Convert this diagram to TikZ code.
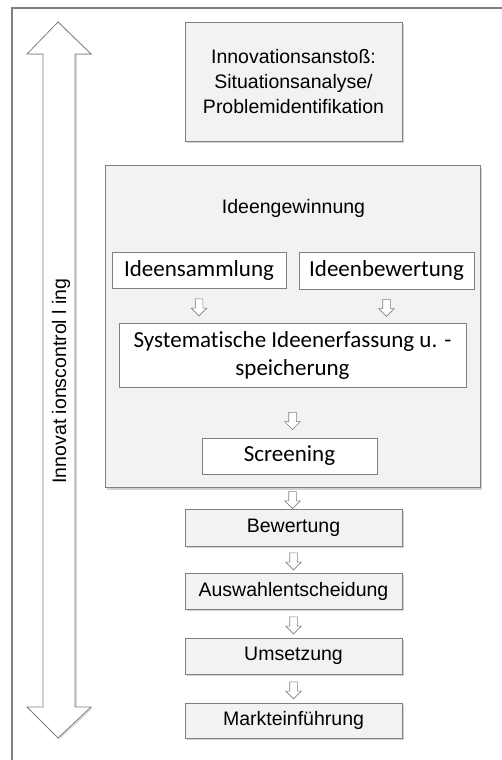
\documentclass[tikz,border=0pt]{standalone}
\usepackage{fontspec}
\setmainfont{Liberation Sans}
\newfontfamily\calibri[Ligatures=NoCommon]{Carlito}
\usepackage{tikz}
\usetikzlibrary{calc,positioning,shapes.arrows,shadows}
\definecolor{boxgray}{HTML}{F2F2F2}
\definecolor{linegray}{HTML}{808080}

\begin{document}
\begin{tikzpicture}[x=1pt, y=-1pt,
  gbox/.style={draw=linegray, fill=boxgray, line width=0.8pt, align=center, inner sep=0pt,
    font=\fontsize{19.5}{25}\selectfont,
    drop shadow={shadow xshift=2pt, shadow yshift=-2pt, fill=black!35}},
  wbox/.style={draw=linegray, fill=white, line width=0.8pt, align=center, inner sep=0pt,
    font=\calibri\fontsize{23}{28}\selectfont},
  hollow/.style={single arrow, draw=linegray, fill=white, line width=0.6pt, inner sep=3.5pt,
    minimum height=17pt, single arrow head extend=4pt,
    shape border rotate=270}]

\useasboundingbox (0,0) rectangle (501,760);

% Rahmen
\draw[linegray, line width=2pt] (12,770) -- (12,8) -- (510,8);

% Doppelpfeil links
\draw[linegray, fill=white, line width=0.8pt,
  drop shadow={shadow xshift=2pt, shadow yshift=-1pt, fill=black!30}]
  (58,22) -- (91,54) -- (75,54) -- (75,707) -- (91,707) -- (58,738)
  -- (27,707) -- (43,707) -- (43,54) -- (27,54) -- cycle;
\node[rotate=90, font=\fontsize{19.5}{24}\selectfont] (control) at (61,381) {Innovat ionscontrol l ing};

% Boxen
\node[gbox, minimum width=217, minimum height=119] (anstoss) at (293.5,81.5)
  {Innovationsanstoß:\\Situationsanalyse/\\Problemidentifikation};
\node[gbox, minimum width=375, minimum height=322] (gewinnung) at (292.5,326.5) {};
\node[font=\fontsize{19.5}{25}\selectfont] (gewtitel) at (293.5,208) {Ideengewinnung};

\node[wbox, minimum width=174, minimum height=36] (sammlung) at (199,270) {Ideensammlung};
\node[wbox, minimum width=175, minimum height=37] (bewidee) at (386.5,270.5) {Ideenbewertung};
\node[wbox, minimum width=347, minimum height=64] (erfassung) at (292.5,355)
  {Systematische Ideenerfassung u. -\\speicherung};
\node[wbox, minimum width=175, minimum height=36] (screening) at (289.5,456) {Screening};

\node[gbox, minimum width=217, minimum height=37] (bewertung) at (293.5,527.5) {Bewertung};
\node[gbox, minimum width=217, minimum height=36] (auswahl) at (293.5,591) {Auswahlentscheidung};
\node[gbox, minimum width=217, minimum height=36] (umsetzung) at (293.5,656) {Umsetzung};
\node[gbox, minimum width=217, minimum height=35] (markt) at (293.5,720.5) {Markteinführung};

% Pfeile
\path (sammlung.south) -- (sammlung.south |- erfassung.north) node[midway, hollow] {};
\path (bewidee.south) -- (bewidee.south |- erfassung.north) node[midway, hollow] {};
\path (erfassung.south) -- (erfassung.south |- screening.north) node[pos=0.63, hollow] {};
\path (gewinnung.south) -- (gewinnung.south |- bewertung.north) node[midway, hollow] {};
\path (bewertung) -- (auswahl) node[midway, hollow] {};
\path (auswahl) -- (umsetzung) node[midway, hollow] {};
\path (umsetzung) -- (markt) node[midway, hollow] {};

\end{tikzpicture}
\end{document}
